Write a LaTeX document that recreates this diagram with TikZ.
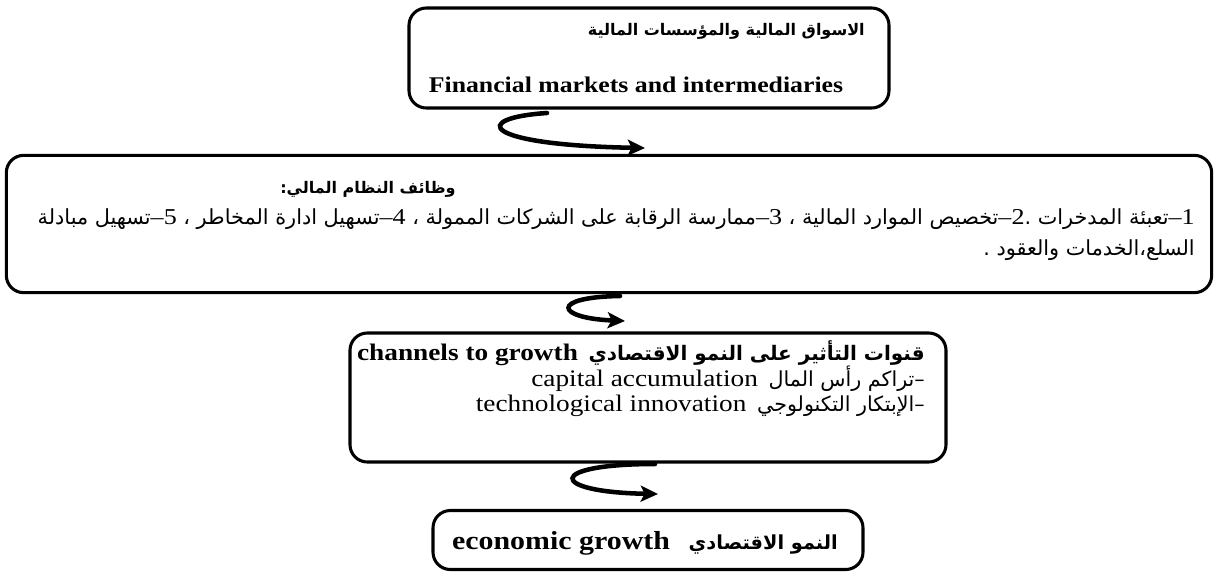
\documentclass[tikz,border=0pt]{standalone}
\usepackage{fontspec}
\setmainfont[FakeStretch=1.15]{Liberation Serif}
\newfontfamily\arabicfont[Script=Arabic]{DejaVu Sans}
\TeXXeTstate=1
\usetikzlibrary{arrows.meta}
\newcommand\latf{\rmfamily}
\newcommand\numdash[1]{{\latf\fontsize{17}{18}\selectfont #1\kern0pt–}}
\begin{document}
\begin{tikzpicture}[x=0.75pt,y=-0.75pt,
  box/.style={draw,line width=2.3pt,rounded corners=13pt,inner sep=0pt},
  hook/.style={line width=3.4pt,line cap=round,-{Stealth[length=13pt,width=12pt,inset=3pt]}},
  txtR/.style={inner sep=0pt,anchor=base east},
  txtC/.style={inner sep=0pt,anchor=base},
]
\useasboundingbox (0,0) rectangle (1216,575);
% boxes
\node[box,minimum width=360pt,minimum height=75pt] (b1) at (649,58) {};
\node[box,minimum width=904pt,minimum height=103pt] (b2) at (609,224) {};
\node[box,minimum width=447pt,minimum height=96.75pt] (b3) at (648,397.5) {};
\node[box,minimum width=322.5pt,minimum height=44.25pt] (b4) at (648,540) {};
% texts box 1
\node[txtR] (t1a) at (865,35) {\arabicfont\fontsize{12}{14}\selectfont\bfseries\beginR الاسواق المالية والمؤسسات المالية\endR};
\node[txtC] (t1b) at (636,92) {\fontsize{16.8}{20}\selectfont\bfseries Financial markets and intermediaries};
% texts box 2
\node[txtR] (t2a) at (456,193) {\arabicfont\fontsize{12}{14}\selectfont\bfseries\beginR وظائف النظام المالي:\endR};
\node[txtR] (t2b) at (1195,224) {\arabicfont\fontsize{15.6}{18}\selectfont\beginR\numdash{1}تعبئة المدخرات .\numdash{2}تخصيص الموارد المالية ، \numdash{3}ممارسة الرقابة على الشركات الممولة ، \numdash{4}تسهيل ادارة المخاطر ، \numdash{5}تسهيل مبادلة\endR};
\node[txtR] (t2c) at (1195,255) {\arabicfont\fontsize{15.6}{18}\selectfont\beginR السلع،الخدمات والعقود .\endR};
% texts box 3
\node[txtR] (t3a) at (925,360) {\arabicfont\fontsize{15}{17}\selectfont\bfseries\beginR قنوات التأثير على النمو الاقتصادي\hspace{8pt}\beginL{\latf\fontsize{17.8}{20}\selectfont\bfseries channels to growth}\endL\endR};
\node[txtR] (t3b) at (925,386) {\arabicfont\fontsize{15.5}{17}\selectfont\beginR –تراكم رأس المال\hspace{8pt}\beginL{\latf\fontsize{17.8}{20}\selectfont capital accumulation}\endL\endR};
\node[txtR] (t3c) at (925,411) {\arabicfont\fontsize{15.5}{17}\selectfont\beginR –الإبتكار التكنولوجي\hspace{8pt}\beginL{\latf\fontsize{17.8}{20}\selectfont technological innovation}\endL\endR};
% text box 4
\node[txtR] (t4) at (838,549) {\arabicfont\fontsize{14.5}{16}\selectfont\bfseries\beginR النمو الاقتصادي\hspace{14pt}\beginL{\latf\fontsize{19.5}{22}\selectfont\bfseries economic growth}\endL\endR};
% arrows
\coordinate (a1s) at (547,113);
\coordinate (a1e) at (645,148);
\coordinate (a2s) at (620,296);
\coordinate (a2e) at (625,321);
\coordinate (a3s) at (655,464);
\coordinate (a3e) at (658,494);
\draw[hook] (a1s) .. controls (470,118) and (480,145) .. (a1e);
\draw[hook] (a2s) .. controls (550,297) and (555,318) .. (a2e);
\draw[hook] (a3s) .. controls (545,464) and (548,492) .. (a3e);
\end{tikzpicture}
\end{document}
